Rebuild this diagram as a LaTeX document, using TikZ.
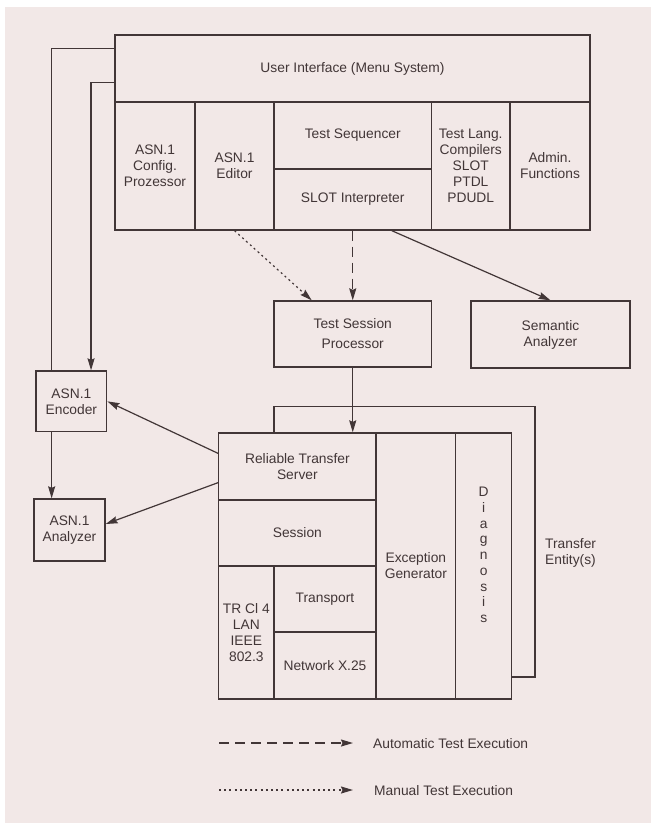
\documentclass[tikz,border=0pt]{standalone}
\usepackage{fontspec}
\setmainfont{Liberation Sans}
\usetikzlibrary{arrows.meta,positioning,calc}
\definecolor{paper}{RGB}{242,232,231}
\definecolor{ink}{RGB}{66,54,55}

\begin{document}
\begin{tikzpicture}[x=1pt,y=-1pt,
  b/.style={draw=ink,fill=paper,line width=1.3pt,align=center,inner sep=2pt,
    text=ink,font=\fontsize{13.8}{16}\selectfont},
  cell/.style 2 args={b,minimum width=#1pt,minimum height=#2pt},
  lab/.style={text=ink,font=\fontsize{13.8}{16}\selectfont,inner sep=2pt},
  ar/.style={-{Stealth[length=12pt,width=7pt,inset=1.5pt]},draw=ink,line width=1.2pt},
  ln/.style={draw=ink,line width=1.2pt},
  auto/.style={dash pattern=on 10pt off 6pt},
  manual/.style={dash pattern=on 2pt off 3.2pt}]
\useasboundingbox (0,0) rectangle (651,823);
\fill[paper] (5,7) rectangle (651,823);
% user interface block
\node[cell={475}{67}] (ui) at (352.5,68.5) {User Interface (Menu System)};
\node[cell={80}{128}] (cfg) at (155,166) {ASN.1\\Config.\\Prozessor};
\node[cell={79}{128}] (edit) at (234.5,166) {ASN.1\\Editor};
\node[cell={157.5}{67}] (seq) at (352.75,135.5) {Test Sequencer};
\node[cell={157.5}{61}] (slot) at (352.75,199.5) {SLOT Interpreter};
\node[cell={78.5}{128}] (comp) at (470.75,166) {Test Lang.\\Compilers\\SLOT\\PTDL\\PDUDL};
\node[cell={80}{128}] (admin) at (550,166) {Admin.\\Functions};
% processors
\node[cell={157.5}{66}] (tsp) at (352.75,334) {Test Session\\[4pt]Processor};
\node[cell={159}{67}] (sem) at (550.5,334.5) {Semantic\\Analyzer};
\node[cell={70.7}{60.7}] (enc) at (71.35,401.35) {ASN.1\\Encoder};
\node[cell={71}{62}] (ana) at (69.5,530) {ASN.1\\Analyzer};
% transfer entity (back copy, then front copy)
\node[cell={261}{270.3}] (te) at (404.5,541.85) {};
\node[lab,anchor=west,align=left] (telab) at (543,553) {Transfer\\Entity(s)};
\node[cell={157.3}{67}] (rts) at (297.35,466.5) {Reliable Transfer\\Server};
\node[cell={157.3}{66}] (sess) at (297.35,533) {Session};
\node[cell={55.3}{133}] (lan) at (246.35,632.5) {TR Cl 4\\LAN\\IEEE\\802.3};
\node[cell={102}{66}] (trans) at (325,599) {Transport};
\node[cell={102}{67}] (net) at (325,665.5) {Network X.25};
\node[cell={79.7}{266}] (exc) at (415.85,566) {Exception\\Generator};
\node[cell={56}{266}] (diag) at (483.7,566) {};
\node[lab,align=center,font=\fontsize{13.8}{15.75}\selectfont] (diagtxt)
  at ([yshift=11pt]diag.center) {D\\i\\a\\g\\n\\o\\s\\i\\s};
% connectors
\draw[ar,manual] (edit.south) -- ([xshift=-41pt]tsp.north);
\draw[ar,auto] (slot.south) -- (tsp.north);
\draw[ar] ([xshift=39pt]slot.south) -- (sem.north);
\draw[ar] (tsp.south) -- (tsp.south |- rts.north);
\draw[ln] ([yshift=-14pt]ui.north west) -| ([xshift=-19.7pt]enc.north);
\draw[ar] ([yshift=-48pt]ui.north west) -| ([xshift=19.7pt]enc.north);
\draw[ar] ([xshift=-19.7pt]enc.south) -- ([xshift=-19.7pt]enc.south |- ana.north);
\draw[ar] ([yshift=-21pt]rts.north west) -- (enc.east);
\draw[ar] ([yshift=18pt]rts.south west) -- ([yshift=6pt]ana.east);
% legend
\coordinate (auto0) at (219,743);
\coordinate (auto1) at (353,743);
\coordinate (man0) at (219,790);
\coordinate (man1) at (353,790);
\node[lab,anchor=west] (autolab) at (371,744) {Automatic Test Execution};
\node[lab,anchor=west] (manlab) at (372,791) {Manual Test Execution};
\draw[ar,auto] (auto0) -- (auto1);
\draw[ar,manual] (man0) -- (man1);
\end{tikzpicture}
\end{document}
